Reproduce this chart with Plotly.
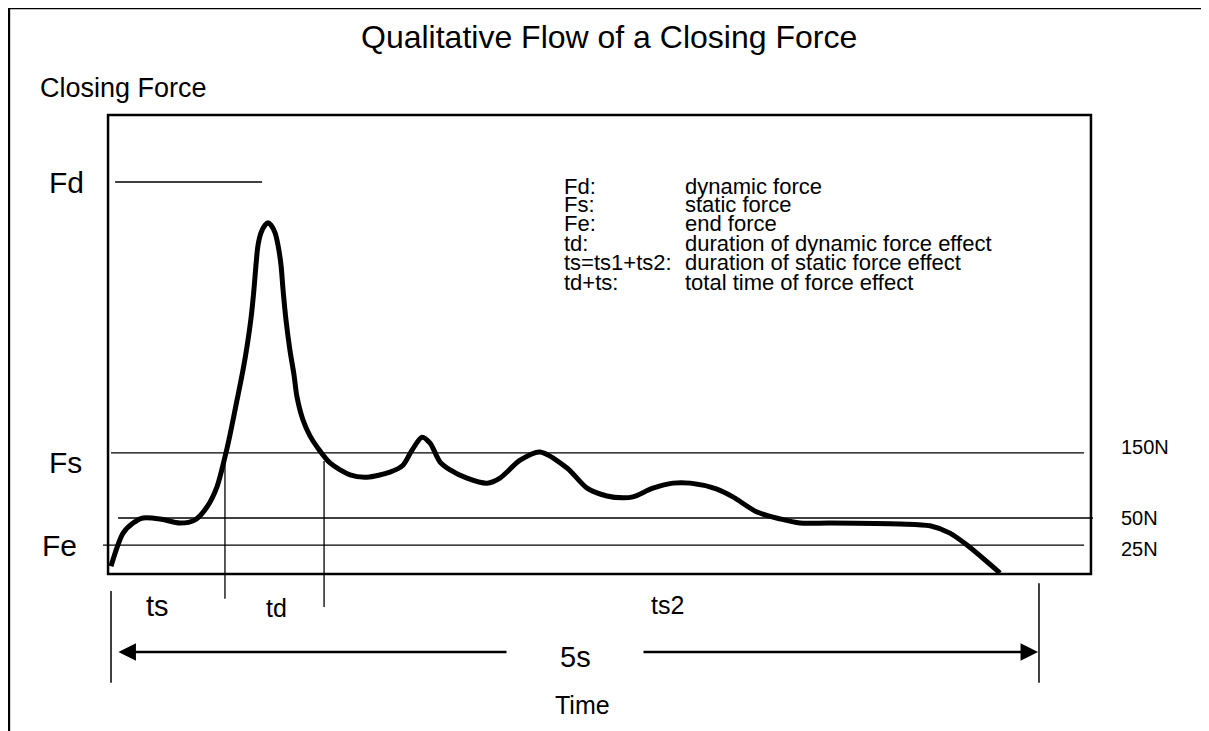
import plotly.graph_objects as go

# ---------------- data (time in s, force in % of box height) ----------------
time_s = [0.000, 0.065, 0.119, 0.172, 0.264, 0.372, 0.453, 0.517, 0.571, 0.614,
          0.641, 0.679, 0.711, 0.733, 0.754, 0.770, 0.781, 0.792, 0.808, 0.830,
          0.846, 0.862, 0.884, 0.900, 0.916, 0.927, 0.943, 0.964, 0.986, 1.002,
          1.034, 1.072, 1.110, 1.180, 1.288, 1.379, 1.503, 1.573, 1.622, 1.676,
          1.719, 1.773, 1.827, 1.918, 2.026, 2.096, 2.204, 2.311, 2.457, 2.565,
          2.672, 2.759, 2.812, 2.920, 3.028, 3.120, 3.265, 3.351, 3.481, 3.605,
          3.712, 3.874, 4.251, 4.413, 4.520, 4.612, 4.790]
force = [1.7, 8.9, 11.1, 12.2, 12.0, 11.1, 11.8, 14.6, 19.0, 25.5,
         30.3, 37.9, 44.4, 49.6, 55.6, 61.9, 67.3, 71.6, 74.3, 76.0,
         76.5, 76.0, 74.3, 71.6, 67.3, 61.9, 55.3, 48.8, 43.4, 38.6,
         33.6, 30.1, 27.7, 24.2, 21.6, 21.1, 22.2, 23.7, 27.0, 29.8,
         28.5, 24.4, 22.7, 20.9, 19.8, 20.9, 24.8, 26.6, 23.1, 18.7,
         17.0, 16.6, 16.8, 18.7, 19.8, 19.8, 18.5, 16.8, 13.5, 12.0,
         11.1, 11.1, 10.9, 10.5, 8.9, 6.3, 0.2]

level_names = ["Fd", "Fs", "50N", "Fe"]
level_values = [85.4, 26.4, 12.2, 6.3]
level_labels_right = ["150N", "50N", "25N"]
td_bounds = [0.614, 1.148]          # start / end of dynamic force effect (s)
total_time = [0.0, 5.0]             # 5 s dimension
legend_keys = ["Fd:", "Fs:", "Fe:", "td:", "ts=ts1+ts2:", "td+ts:"]
legend_desc = ["dynamic force", "static force", "end force",
               "duration of dynamic force effect",
               "duration of static force effect",
               "total time of force effect"]

FONT = "Liberation Sans, Arial, sans-serif"
BLACK = "#000000"

fig = go.Figure()
fig.add_trace(go.Scatter(x=time_s, y=force, mode="lines",
                         line=dict(color=BLACK, width=5, shape="spline", smoothing=0.8),
                         hoverinfo="skip", showlegend=False))

shapes = []
# outer open frame
shapes.append(dict(type="line", x0=-0.550, x1=6.1, y0=123.3, y1=123.3, line=dict(color=BLACK, width=2.5)))
shapes.append(dict(type="line", x0=-0.550, x1=-0.550, y0=123.3, y1=-38, line=dict(color=BLACK, width=2.5)))
# plot box
shapes.append(dict(type="rect", x0=-0.016, x1=5.280, y0=0, y1=100, line=dict(color=BLACK, width=2.5)))
# level lines
extents = {"Fd": (0.022, 0.814), "Fs": (0.0, 5.243), "50N": (0.038, 5.291), "Fe": (-0.043, 5.243)}
for name, val in zip(level_names, level_values):
    a, b = extents[name]
    shapes.append(dict(type="line", x0=a, x1=b, y0=val, y1=val, line=dict(color=BLACK, width=1.3)))
# td boundaries
shapes.append(dict(type="line", x0=td_bounds[0], x1=td_bounds[0], y0=24.8, y1=-5.4, line=dict(color=BLACK, width=1.3)))
shapes.append(dict(type="line", x0=td_bounds[1], x1=td_bounds[1], y0=24.6, y1=-7.2, line=dict(color=BLACK, width=1.3)))
# 5 s dimension ticks
shapes.append(dict(type="line", x0=total_time[0], x1=total_time[0], y0=-3.7, y1=-23.7, line=dict(color=BLACK, width=1.5)))
shapes.append(dict(type="line", x0=total_time[1], x1=total_time[1], y0=-2.0, y1=-23.7, line=dict(color=BLACK, width=1.5)))

ann = []
def txt(x, y, s, size, xanchor="center"):
    ann.append(dict(x=x, y=y, text=s, showarrow=False, xanchor=xanchor, yanchor="middle",
                    font=dict(family=FONT, size=size, color=BLACK)))

txt(2.683, 117.0, "Qualitative Flow of a Closing Force", 32)
txt(-0.394, 105.9, "Closing Force", 27, "left")
txt(-0.345, level_values[0], level_names[0], 30, "left")
txt(-0.345, 24.4, "Fs", 30, "left")
txt(-0.383, level_values[3], "Fe", 30, "left")
for lab, val in zip(level_labels_right, [27.7, 12.2, 5.4]):
    txt(5.431, val, lab, 20, "left")
rows_y = [84.5, 80.4, 76.3, 71.9, 67.8, 63.6]
for k, d, yy in zip(legend_keys, legend_desc, rows_y):
    txt(2.430, yy, k, 22, "left")
    txt(3.082, yy, d, 22, "left")
txt(0.253, -7.0, "ts", 29)
txt(0.889, -7.4, "td", 25)
txt(2.996, -6.8, "ts2", 25)
txt(2.5, -18.1, "5s", 29)
txt(2.538, -28.5, "Time", 25)

# arrows of the 5 s dimension
for head, tail in [(0.04, 2.139), (4.995, 2.861)]:
    ann.append(dict(x=head, y=-17.0, ax=tail, ay=-17.0, axref="x", ayref="y", xref="x", yref="y",
                    showarrow=True, arrowhead=2, arrowsize=1.4, arrowwidth=2.5, arrowcolor=BLACK, text=""))

# the page body adds an 8 px offset; size and ranges compensate so the page fits the window
fig.update_layout(
    width=1201, height=723, margin=dict(l=0, r=0, t=0, b=0),
    paper_bgcolor="white", plot_bgcolor="white",
    xaxis=dict(range=[-0.555, 5.916], visible=False, fixedrange=True),
    yaxis=dict(range=[-34.20, 123.31], visible=False, fixedrange=True),
    shapes=shapes, annotations=ann, showlegend=False,
)
fig.write_html("out.html")
